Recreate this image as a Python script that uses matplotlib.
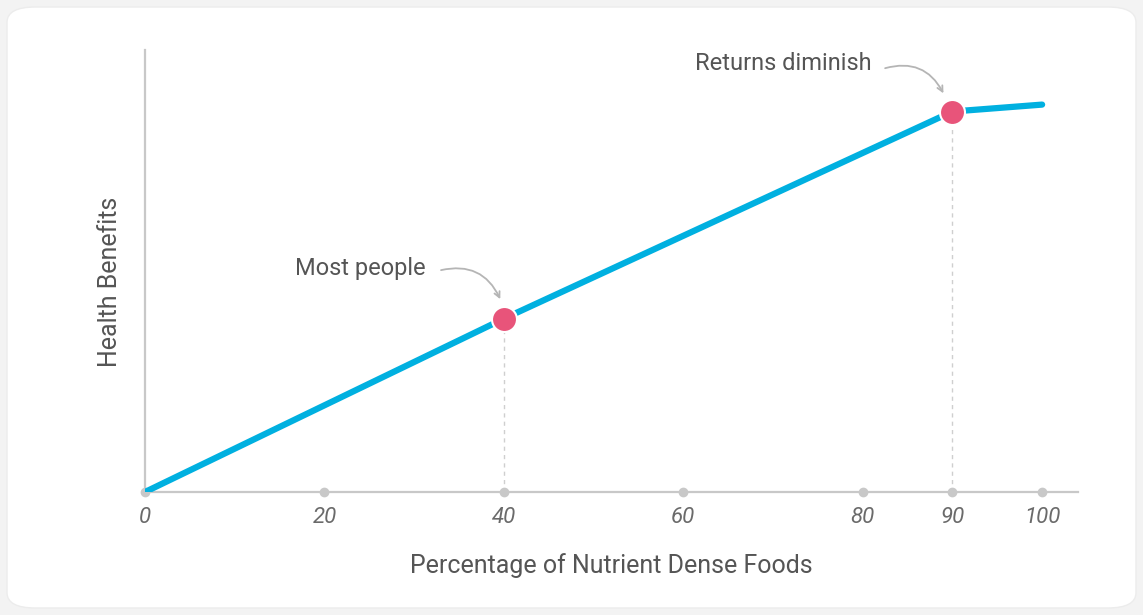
import matplotlib
matplotlib.use("Agg")
import matplotlib.pyplot as plt
from matplotlib.patches import FancyBboxPatch

# data
pct = [0, 40, 90, 100]
benefit = [0, 40, 87.8, 89.4]
tick_vals = [0, 20, 40, 60, 80, 90, 100]
highlights = [40, 90]
notes = ["Most people", "Returns diminish"]

plt.rcParams['font.family'] = ['Liberation Sans Narrow', 'Roboto', 'DejaVu Sans']

fig = plt.figure(figsize=(11.43, 6.15), dpi=100)
fig.patch.set_facecolor('#f3f3f3')
card = FancyBboxPatch((7/1143, 7/615), 1 - 14/1143, 1 - 14/615,
                      boxstyle="round,pad=0,rounding_size=0.025",
                      transform=fig.transFigure, facecolor='white',
                      edgecolor='#ececec', lw=1, zorder=-5)
fig.patches.append(card)

ax = fig.add_axes([145/1143, 123/615, 933/1143, 442/615], zorder=2)
ax.patch.set_alpha(0)
ax.set_xlim(0, 104)
ax.set_ylim(0, 102)

grey = '#c8c8c8'
for s in ['top', 'right']:
    ax.spines[s].set_visible(False)
ax.spines['left'].set_color(grey)
ax.spines['bottom'].set_color(grey)
ax.spines['left'].set_linewidth(1.6)
ax.spines['bottom'].set_linewidth(1.6)

ax.set_yticks([])
ax.set_xticks(tick_vals)
ax.set_xticklabels([str(t) for t in tick_vals], fontstyle='italic',
                   color='#6a6a6a', fontsize=16)
ax.tick_params(axis='x', length=0, pad=11)
ax.plot(tick_vals, [0] * len(tick_vals), 'o', color=grey, ms=6,
        clip_on=False, zorder=3)

# dashed drop lines
for h in highlights:
    yv = benefit[pct.index(h)]
    ax.plot([h, h], [0, yv], ls=(0, (3, 3)), color='#cfcfcf', lw=1, zorder=1)

ax.plot(pct, benefit, color='#00b0e0', lw=4.5, solid_capstyle='round', zorder=4)
ax.plot(highlights, [benefit[pct.index(h)] for h in highlights], 'o',
        color='#e8547a', ms=18, mec='white', mew=1.5, zorder=5)

# labels + curved arrows
ax.text(31.3, 51.5, notes[0], ha='right', va='center', fontsize=17, color='#555555')
ax.text(81, 99, notes[1], ha='right', va='center', fontsize=17, color='#555555')
arrow = dict(arrowstyle='->', color='#b5b5b5', lw=1.3, shrinkA=0, shrinkB=0,
             connectionstyle='arc3,rad=-0.4')
ax.annotate('', xy=(39.6, 44.5), xytext=(33.0, 51.2), arrowprops=arrow)
ax.annotate('', xy=(89.0, 92.0), xytext=(82.5, 97.8), arrowprops=arrow)

ax.set_xlabel('Percentage of Nutrient Dense Foods', fontsize=18,
              color='#555555', labelpad=18)
fig.text(110/1143, 1 - 282/615, 'Health Benefits', rotation=90,
         ha='center', va='center', fontsize=18, color='#555555')

fig.savefig('out.png', dpi=100, facecolor=fig.get_facecolor())
